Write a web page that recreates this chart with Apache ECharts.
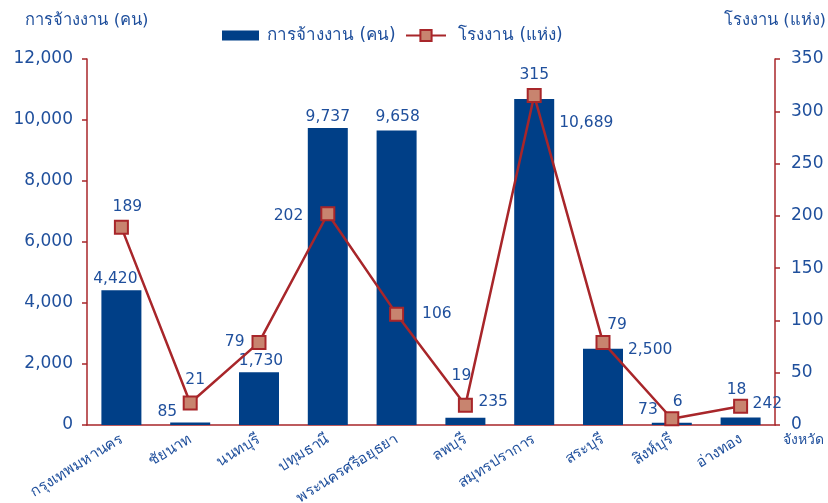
<!DOCTYPE html>
<html><head><meta charset="utf-8">
<script src="https://cdn.jsdelivr.net/npm/echarts@6/dist/echarts.min.js"></script>
<style>html,body{margin:0;padding:0;background:#fff}#c{width:828px;height:503px}</style>
</head><body><div id="c"></div>
<script>
const categories = ['กรุงเทพมหานคร','ชัยนาท','นนทบุรี','ปทุมธานี','พระนครศรีอยุธยา','ลพบุรี','สมุทรปราการ','สระบุรี','สิงห์บุรี','อ่างทอง'];
const employment = [4420, 85, 1730, 9737, 9658, 235, 10689, 2500, 73, 242];
const factories = [189, 21, 79, 202, 106, 19, 315, 79, 6, 18];
const leftTicks = [0, 2000, 4000, 6000, 8000, 10000, 12000];
const rightTicks = [0, 50, 100, 150, 200, 250, 300, 350];

const FONT = 'DejaVu Sans';
const BLUE = '#1f4f9c';
const BAR = '#003f87';
const RED = '#a8262a';
const MARK = '#c8846f';

// bar label placement
const barLabelCfg = [
  {position:'top', offset:[-6,0]},
  {position:[7,-10], align:'right', verticalAlign:'middle'},
  {position:'top', offset:[2,0]},
  {position:'top'},
  {position:'top', offset:[1,-2]},
  {position:[33,-16], align:'left', verticalAlign:'middle'},
  {position:[45,24], align:'left', verticalAlign:'middle'},
  {position:[45,1], align:'left', verticalAlign:'middle'},
  {position:[6,-13], align:'right', verticalAlign:'middle'},
  {position:[32,-14], align:'left', verticalAlign:'middle'}
];
// line label placement
const lineLabelCfg = [
  {position:'top', offset:[6,0]},
  {position:'top', offset:[5,-3]},
  {position:'left', distance:7},
  {position:'left', distance:17, offset:[0,2]},
  {position:'right', distance:18},
  {position:'top', offset:[-4,-9]},
  {position:'top'},
  {position:'top', offset:[14,3]},
  {position:'top', offset:[6,4]},
  {position:'top', offset:[-4,4]}
];

const chart = echarts.init(document.getElementById('c'), null, {renderer:'canvas'});
chart.setOption({
  animation:false,
  textStyle:{fontFamily:FONT},
  legend:[{
    top:27, left:222, padding:0, itemWidth:37, itemHeight:10,
    textStyle:{color:BLUE, fontSize:17, fontFamily:FONT, padding:[0,0,0,3]},
    data:[{name:'การจ้างงาน (คน)', icon:'rect'}]
  },{
    top:27, left:405, padding:0, itemWidth:40, itemHeight:14, itemGap:0,
    textStyle:{color:BLUE, fontSize:17, fontFamily:FONT, padding:[0,0,0,7]},
    data:[{name:'โรงงาน (แห่ง)'}]
  }],
  grid:{left:87, right:53, top:59, bottom:78, containLabel:false, outerBoundsMode:'none'},
  xAxis:{
    type:'category', data:categories,
    name:'จังหวัด', nameLocation:'end', nameGap:8, nameMoveOverlap:false,
    nameTextStyle:{color:BLUE, fontSize:14, align:'left', verticalAlign:'top', padding:[8,0,0,0]},
    axisLine:{lineStyle:{color:RED, width:1.5}},
    axisTick:{show:false},
    axisLabel:{color:BLUE, fontSize:15, rotate:32, interval:0, margin:13}
  },
  yAxis:[{
    type:'value', min:0, max:12000, interval:2000,
    name:'การจ้างงาน (คน)', nameLocation:'end', nameGap:30,
    nameTextStyle:{color:BLUE, fontSize:16.5, align:'center'},
    axisLine:{show:true, lineStyle:{color:RED, width:1.5}},
    axisTick:{show:true, length:5, lineStyle:{color:RED, width:1.5}},
    splitLine:{show:false},
    axisLabel:{color:BLUE, fontSize:17, margin:14,
      formatter:v=>v.toLocaleString('en-US')}
  },{
    type:'value', min:0, max:350, interval:50,
    name:'โรงงาน (แห่ง)', nameLocation:'end', nameGap:30,
    nameTextStyle:{color:BLUE, fontSize:16.5, align:'center'},
    axisLine:{show:true, lineStyle:{color:RED, width:1.5}},
    axisTick:{show:true, length:5, lineStyle:{color:RED, width:1.5}},
    splitLine:{show:false},
    axisLabel:{color:BLUE, fontSize:17, margin:16}
  }],
  series:[{
    name:'การจ้างงาน (คน)', type:'bar', yAxisIndex:0, barWidth:40,
    itemStyle:{color:BAR},
    data:employment.map((v,i)=>({value:v, label:barLabelCfg[i]})),
    label:{show:true, color:BLUE, fontSize:15.5, distance:3,
      formatter:p=>p.value.toLocaleString('en-US')}
  },{
    name:'โรงงาน (แห่ง)', type:'line', yAxisIndex:1,
    symbol:'rect', symbolSize:13,
    lineStyle:{color:RED, width:2.5},
    itemStyle:{color:MARK, borderColor:RED, borderWidth:2},
    data:factories.map((v,i)=>({value:v, label:lineLabelCfg[i]})),
    label:{show:true, color:BLUE, fontSize:15.5, distance:5}
  }]
});
</script></body></html>
